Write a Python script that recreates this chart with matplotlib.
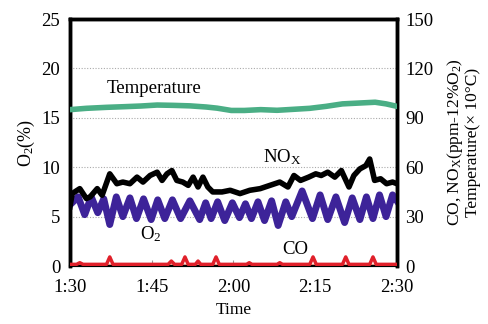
import matplotlib
matplotlib.use("Agg")
import matplotlib.pyplot as plt

# minutes after 1:30
o2_t = [0, 1.5, 2.7, 3.9, 5.1, 6.2, 7.3, 8.5, 9.7, 11.0, 12.2, 13.5, 14.9, 16.1, 17.4, 18.8,
        20.3, 22.0, 23.8, 24.9, 25.9, 27.1, 28.4, 29.8, 31.1, 32.2, 33.3, 34.5, 35.7, 37.0,
        38.2, 39.6, 40.7, 42.6, 44.5, 45.9, 47.3, 48.8, 50.4, 51.8, 53.2, 54.4, 55.6, 56.8,
        58.0, 59.2, 60]
o2_v = [6.2, 7.0, 5.2, 7.0, 5.4, 6.8, 4.2, 7.0, 5.0, 6.9, 4.8, 6.8, 4.7, 6.7, 4.8, 6.7,
        4.8, 6.6, 4.7, 6.4, 4.8, 6.5, 4.6, 6.4, 4.9, 6.3, 4.8, 6.5, 4.6, 6.6,
        4.1, 6.5, 5.0, 7.6, 4.8, 7.2, 4.7, 7.0, 4.4, 6.9, 4.7, 7.0, 4.8, 7.2,
        5.0, 7.2, 6.6]

nox_t = [0, 0.4, 1.8, 3.0, 3.7, 5.0, 5.9, 7.3, 8.6, 9.7, 11.0, 12.3, 13.4, 14.7, 16.0, 16.9,
         17.8, 18.7, 19.6, 20.7, 21.7, 22.6, 23.5, 24.4, 25.3, 26.2, 27.9, 29.4, 31.2, 33.0,
         34.9, 36.7, 38.5, 40.0, 41.1, 42.3, 43.8, 45.1, 46.1, 47.3, 48.6, 49.8, 51.2, 52.1,
         53.2, 54.3, 55.0, 55.9, 57.0, 58.1, 59.2, 60]
nox_v = [36, 44, 47, 41, 42, 47, 43, 56, 50, 51, 50, 54, 51, 55, 57, 52,
         56, 58, 52, 51, 49, 54, 48, 54, 48, 45, 45, 46, 44, 46,
         47, 49, 51, 48, 55, 52, 54, 56, 55, 57, 54, 58, 48, 55,
         59, 61, 65, 52, 53, 50, 51, 50]

temp_t = [0, 3, 6.7, 10, 13, 16, 19, 22, 25, 27, 29.6, 32, 35, 38, 41, 44, 47, 50, 53, 56, 58, 60]
temp_v = [95, 95.8, 96.4, 96.8, 97.2, 97.8, 97.6, 97.3, 96.6, 95.9, 94.5, 94.5, 95, 94.6,
          95.2, 95.8, 97, 98.5, 99, 99.5, 98.5, 97]

co_t = [0, 1.2, 1.8, 2.4, 6.7, 7.3, 7.9, 18.0, 18.6, 19.2, 20.5, 21.1, 21.7, 23.0, 23.5,
        24.0, 26.2, 26.8, 27.4, 32.4, 32.9, 33.4, 38.0, 38.5, 39.0, 44.0, 44.6, 45.2,
        50.0, 50.6, 51.2, 55.0, 55.6, 56.2, 60]
co_v = [1, 1, 2, 1, 1, 5.5, 1, 1, 3, 1, 1, 5.5, 1, 1, 3,
        1, 1, 5.5, 1, 1, 2, 1, 1, 2, 1, 1, 5.5, 1,
        1, 5.5, 1, 1, 5.5, 1, 1]

x_ticks = [0, 15, 30, 45, 60]
x_labels = ['1:30', '1:45', '2:00', '2:15', '2:30']

plt.rcParams['font.family'] = ['Liberation Serif', 'DejaVu Serif']
plt.rcParams['mathtext.fontset'] = 'custom'
plt.rcParams['mathtext.rm'] = 'Liberation Serif'
plt.rcParams['mathtext.it'] = 'Liberation Serif:italic'

fig = plt.figure(figsize=(4.88, 3.24), dpi=100)
ax = fig.add_axes([0.1434, 0.179, 0.67, 0.762])
ax2 = ax.twinx()

# left axis: O2
ax.plot(o2_t, o2_v, color='#3d2399', lw=5, solid_joinstyle='round', zorder=3)
ax.set_xlim(0, 60)
ax.set_ylim(0, 25)
ax.set_yticks([0, 5, 10, 15, 20, 25])
ax.set_xticks(x_ticks)
ax.set_xticklabels(x_labels)
for y in [5, 10, 15, 20]:
    ax.axhline(y, color='#aaaaaa', lw=0.8, ls=(0, (1, 1.5)), zorder=1)
ax.tick_params(axis='y', length=0, labelsize=13.5, pad=7)
ax.tick_params(axis='x', direction='in', length=4, color='#999999', labelsize=13.5, pad=9)
ax.set_ylabel('O$_2$(%)', fontsize=13, labelpad=3)
ax.set_xlabel('Time', fontsize=12.5, labelpad=5)

# right axis: CO, NOx, temperature
ax2.axhline(0.4, color='#e8a08c', lw=2.5, zorder=2)
ax2.plot(co_t, co_v, color='#e0202a', lw=2.5, zorder=3)
ax2.plot(temp_t, temp_v, color='#4aae85', lw=4, solid_joinstyle='round', zorder=3)
ax2.plot(nox_t, nox_v, color='black', lw=4, solid_joinstyle='round', zorder=4)
ax2.set_ylim(0, 150)
ax2.set_yticks([0, 30, 60, 90, 120, 150])
ax2.tick_params(axis='y', length=0, labelsize=13.5, pad=6)
ax2.set_ylabel('CO, NO$_\\mathrm{X}$(ppm-12%O$_2$)\nTemperature(× 10°C)', fontsize=12.5,
               linespacing=1.05, labelpad=8)

for a in (ax, ax2):
    for side in ['left', 'right', 'top']:
        a.spines[side].set_linewidth(2.5)
    a.spines['bottom'].set_linewidth(1.5)

ax.text(6.7, 17.5, 'Temperature', fontsize=13.5)
ax.text(35.5, 10.5, 'NO$_\\mathrm{X}$', fontsize=13.5)
ax.text(12.8, 2.7, 'O$_2$', fontsize=13.5)
ax.text(39, 1.2, 'CO', fontsize=13.5)

fig.savefig('out.png', dpi=100)
